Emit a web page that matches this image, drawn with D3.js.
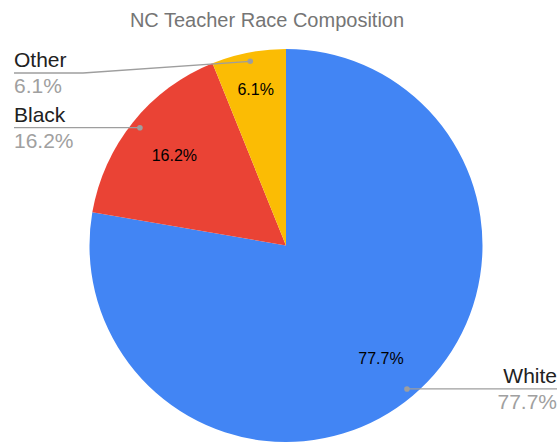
<!DOCTYPE html>
<html>
<head>
<meta charset="utf-8">
<script src="https://cdn.jsdelivr.net/npm/d3@7"></script>
<style>
  html, body { margin: 0; padding: 0; background: #fff; }
  svg { display: block; font-family: "Liberation Sans", Arial, sans-serif; }
</style>
</head>
<body>
<svg id="chart" width="560" height="444"></svg>
<script>
// Teacher race composition, percent of teachers
const categories = ["White", "Black", "Other"];
const values = [77.7, 16.2, 6.1];
const colors = ["#4285F4", "#EA4335", "#FBBC04"];
const title = "NC Teacher Race Composition";

const W = 560, H = 444;
const cx = 286, cy = 245.5, R = 196.5;

const svg = d3.select("#chart");

svg.append("text")
  .attr("x", 267).attr("y", 27)
  .attr("text-anchor", "middle")
  .attr("font-size", 20)
  .attr("fill", "#757575")
  .text(title);

const data = categories.map((c, i) => ({ name: c, value: values[i], color: colors[i] }));

const pie = d3.pie().value(d => d.value).sort(null);
const arcs = pie(data);
const arc = d3.arc().innerRadius(0).outerRadius(R);

const g = svg.append("g").attr("transform", `translate(${cx},${cy})`);

g.selectAll("path.slice")
  .data(arcs)
  .join("path")
  .attr("class", "slice")
  .attr("d", arc)
  .attr("fill", d => d.data.color);

// Point at a fraction of the radius along a slice's middle angle
function polar(d, frac) {
  const a = (d.startAngle + d.endAngle) / 2;
  return [Math.sin(a) * R * frac, -Math.cos(a) * R * frac];
}

// In-slice percentage labels; narrow slices sit a little further out
const fmt = v => v.toFixed(1) + "%";
g.selectAll("text.inner")
  .data(arcs)
  .join("text")
  .attr("class", "inner")
  .attr("text-anchor", "middle")
  .attr("font-size", 16)
  .attr("fill", "#000")
  .each(function(d) {
    const span = d.endAngle - d.startAngle;
    const frac = span < 0.5 ? 0.81 : (span < 1.2 ? 0.73 : 0.75);
    const [x, y] = polar(d, frac);
    d3.select(this).attr("x", x).attr("y", y + 5.5);
  })
  .text(d => fmt(d.value));

// Outside labels with leader lines
const minLineY = 73;
const leftX = 14, rightX = 557;
const lab = svg.append("g");

arcs.forEach(d => {
  const [dx, dy] = polar(d, 0.955);
  const px = cx + dx, py = cy + dy;
  const right = dx > 0;
  const lineY = Math.max(py, minLineY);
  const edge = right ? rightX : leftX;
  let pts;
  if (Math.abs(lineY - py) < 0.5) {
    pts = [[edge, lineY], [px, py]];
  } else {
    const elbow = right ? edge - 69 : edge + 69;
    pts = [[edge, lineY], [elbow, lineY], [px, py]];
  }
  lab.append("path")
    .attr("d", d3.line()(pts))
    .attr("fill", "none")
    .attr("stroke", "#9e9e9e")
    .attr("stroke-width", 1.3);
  lab.append("circle")
    .attr("cx", px).attr("cy", py).attr("r", 2.8)
    .attr("fill", "#9e9e9e");
  lab.append("text")
    .attr("x", edge).attr("y", lineY - 6)
    .attr("text-anchor", right ? "end" : "start")
    .attr("font-size", 21)
    .attr("fill", "#212121")
    .text(d.data.name);
  lab.append("text")
    .attr("x", edge).attr("y", lineY + 20)
    .attr("text-anchor", right ? "end" : "start")
    .attr("font-size", 21)
    .attr("fill", "#a0a0a0")
    .text(fmt(d.value));
});
</script>
</body>
</html>
